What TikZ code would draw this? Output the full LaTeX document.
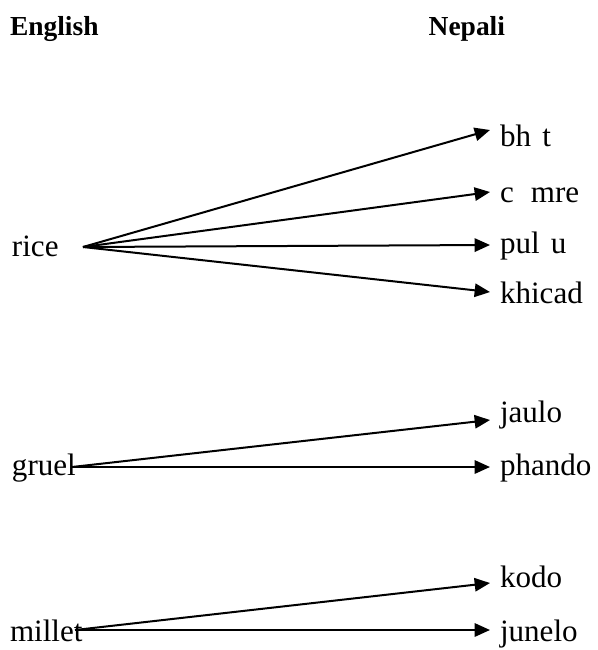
\documentclass[tikz,border=0pt]{standalone}
\usepackage{fontspec}
\setmainfont{Liberation Serif}
\usetikzlibrary{arrows.meta}
\begin{document}
\begin{tikzpicture}[x=0.75pt,y=-0.75pt,
  word/.style={inner sep=0pt,outer sep=0pt,font=\fontsize{23.3pt}{28pt}\selectfont},
  head/.style={inner sep=0pt,outer sep=0pt,font=\fontsize{20.6pt}{24pt}\selectfont\bfseries},
  arr/.style={line width=1.5pt,-{Triangle[length=11.5pt,width=10pt]}}]
\useasboundingbox (0,0) rectangle (598,650);
% headers
\node[head,anchor=base west] (eng) at (10,35) {English};
\node[head,anchor=base east] (nep) at (505,35) {Nepali};
% English words
\node[word,anchor=base west] (rice) at (12,256) {rice};
\node[word,anchor=base west] (gruel) at (12,475) {gruel};
\node[word,anchor=base west] (millet) at (10,641) {millet};
\coordinate (rs) at (83,247);
\coordinate (gs) at (72,467);
\coordinate (ms) at (75,630);
% Nepali words
\node[word,anchor=base west] (bhat) at (500,146) {bh\hspace{0.36em}t};
\node[word,anchor=base west] (camre) at (500,202) {c\hspace{0.55em}mre};
\node[word,anchor=base west] (pulu) at (500,253) {pul\hspace{0.36em}u};
\node[word,anchor=base west] (khicad) at (500,303) {khicad};
\node[word,anchor=base west] (jaulo) at (500,422) {jaulo};
\node[word,anchor=base west] (phando) at (500,475) {phando};
\node[word,anchor=base west] (kodo) at (500,587) {kodo};
\node[word,anchor=base west] (junelo) at (500,641) {junelo};
% arrows
\draw[arr] (rs) -- ([shift={(-10,-16)}]bhat.base west);
\draw[arr] (rs) -- ([shift={(-10,-10)}]camre.base west);
\draw[arr] (rs) -- ([shift={(-10,-8)}]pulu.base west);
\draw[arr] (rs) -- ([shift={(-10,-11)}]khicad.base west);
\draw[arr] (gs) -- ([shift={(-10,-2)}]jaulo.base west);
\draw[arr] (gs) -- ([shift={(-10,-8)}]phando.base west);
\draw[arr] (ms) -- ([shift={(-10,-4)}]kodo.base west);
\draw[arr] (ms) -- ([shift={(-10,-11)}]junelo.base west);
\end{tikzpicture}
\end{document}
